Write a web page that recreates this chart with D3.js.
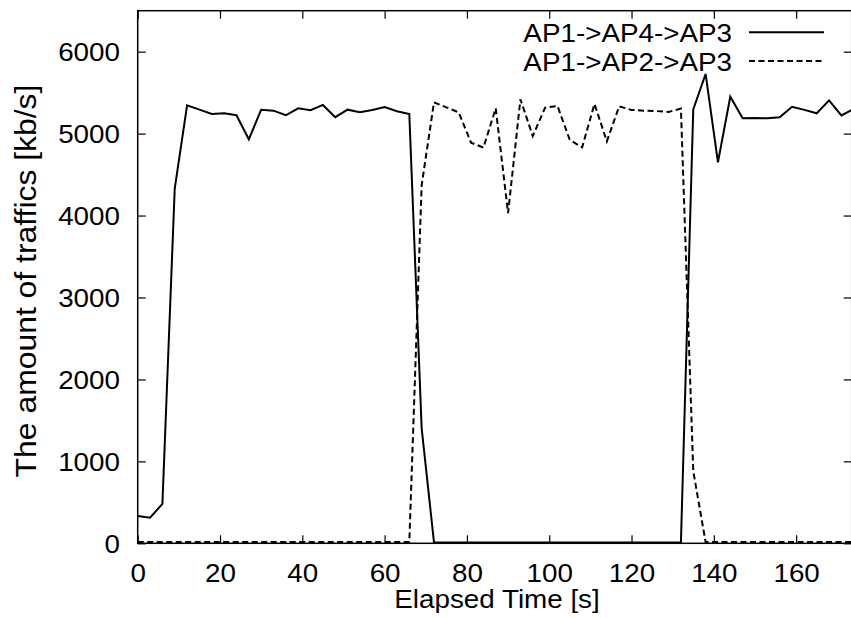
<!DOCTYPE html>
<html>
<head>
<meta charset="utf-8">
<script src="https://cdn.jsdelivr.net/npm/d3@7"></script>
<style>
  html, body { margin: 0; padding: 0; background: #fff; }
  svg { display: block; }
  text { font-family: "Liberation Sans", Arial, Helvetica, sans-serif; fill: #000; }
</style>
</head>
<body>
<svg id="chart" width="851" height="618"></svg>
<script>
// ---- data ----
const timeSec = [0,3,6,9,12,15,18,21,24,27,30,33,36,39,42,45,48,51,54,57,60,63,66,69,72,75,78,81,84,87,90,93,96,99,102,105,108,111,114,117,120,123,126,129,132,135,138,141,144,147,150,153,156,159,162,165,168,171,174];
const viaAP4 = [333,313,480,4330,5346,5292,5240,5248,5224,4931,5292,5280,5224,5309,5285,5350,5200,5292,5261,5289,5325,5273,5240,1404,
  10,10,10,10,10,10,10,10,10,10,10,10,10,10,10,10,10,10,10,10,10,
  5295,5728,4650,5451,5187,5190,5187,5200,5327,5290,5248,5405,5222,5300];
const viaAP2 = [15,15,15,15,15,15,15,15,15,15,15,15,15,15,15,15,15,15,15,15,15,15,15,4370,
  5382,5320,5260,4890,4829,5309,4028,5419,4971,5317,5338,4922,4833,5362,4905,5333,5289,5280,5275,5265,5305,880,
  15,15,15,15,15,15,15,15,15,15,15,15,15];
const seriesNames = ["AP1->AP4->AP3", "AP1->AP2->AP3"];
const xTicks = [0,20,40,60,80,100,120,140,160];
const yTicks = [0,1000,2000,3000,4000,5000,6000];
const xTitle = "Elapsed Time [s]";
const yTitle = "The amount of traffics [kb/s]";

// ---- layout ----
const L = 137.7, R = 851.7, T = 10.7, B = 543.3;
const FS = 26, SX = 1.07;
const svg = d3.select("#chart");
svg.append("rect").attr("width", 851).attr("height", 618).attr("fill", "#fff");

const x = d3.scaleLinear().domain([0, 173.5]).range([L, R]);
const y = d3.scaleLinear().domain([0, 6500]).range([B, T]);

svg.append("defs").append("clipPath").attr("id", "clip")
  .append("rect").attr("x", L).attr("y", T - 5).attr("width", R - L).attr("height", B - T + 10);

// axes (ticks inside, mirrored)
const gx = svg.append("g").attr("transform", `translate(0,${B})`)
  .call(d3.axisBottom(x).tickValues(xTicks).tickSizeInner(-8).tickSizeOuter(0).tickFormat(d3.format("d")));
gx.selectAll("text").attr("y", 38.7).attr("dy", null)
  .attr("transform", `scale(${SX},1)`);
const gxt = svg.append("g").attr("transform", `translate(0,${T})`)
  .call(d3.axisTop(x).tickValues(xTicks).tickSizeInner(-8).tickSizeOuter(0).tickFormat(""));
const gy = svg.append("g").attr("transform", `translate(${L},0)`)
  .call(d3.axisLeft(y).tickValues(yTicks).tickSizeInner(-8).tickSizeOuter(0).tickFormat(d3.format("d")));
gy.selectAll("text").attr("x", -17.7 / SX).attr("dy", "0.35em")
  .attr("transform", `scale(${SX},1)`);
const gyr = svg.append("g").attr("transform", `translate(${R},0)`)
  .call(d3.axisRight(y).tickValues(yTicks).tickSizeInner(-8).tickSizeOuter(0).tickFormat(""));

[gx, gxt, gy, gyr].forEach(g => {
  g.select(".domain").remove();
  g.selectAll("line").attr("stroke", "#000").attr("stroke-width", 1.2);
  g.selectAll("text").attr("font-size", FS).attr("fill", "#000")
    .style("font-family", '"Liberation Sans", Arial, sans-serif');
});

// lines
const pts1 = timeSec.map((t, i) => [t, viaAP4[i]]);
const pts2 = timeSec.map((t, i) => [t, viaAP2[i]]);
const line = d3.line().x(d => x(d[0])).y(d => y(d[1]));
const plot = svg.append("g").attr("clip-path", "url(#clip)");
plot.append("path").attr("d", line(pts2)).attr("fill", "none").attr("stroke", "#000")
  .attr("stroke-width", 2).attr("stroke-dasharray", "6,3.5");
plot.append("path").attr("d", line(pts1)).attr("fill", "none").attr("stroke", "#000")
  .attr("stroke-width", 2).attr("stroke-linejoin", "miter");

// border
svg.append("rect").attr("x", L).attr("y", T).attr("width", R - L).attr("height", B - T)
  .attr("fill", "none").attr("stroke", "#000").attr("stroke-width", 1.5);

// titles
svg.append("text").attr("transform", `translate(497,608.3) scale(${SX},1)`)
  .attr("text-anchor", "middle").attr("font-size", FS).text(xTitle);
svg.append("text").attr("transform", `translate(35.9,281) rotate(-90) scale(1.1,1)`)
  .attr("text-anchor", "middle").attr("font-size", 29).text(yTitle);

// legend
const legY = [[41.7, 32.3], [71, 61]];
seriesNames.forEach((name, i) => {
  svg.append("text").attr("transform", `translate(732,${legY[i][0]}) scale(${SX},1)`)
    .attr("text-anchor", "end").attr("font-size", FS).text(name);
  svg.append("line").attr("x1", 749).attr("x2", 824).attr("y1", legY[i][1]).attr("y2", legY[i][1])
    .attr("stroke", "#000").attr("stroke-width", 2)
    .attr("stroke-dasharray", i === 1 ? "6,3.5" : null);
});
</script>
</body>
</html>
